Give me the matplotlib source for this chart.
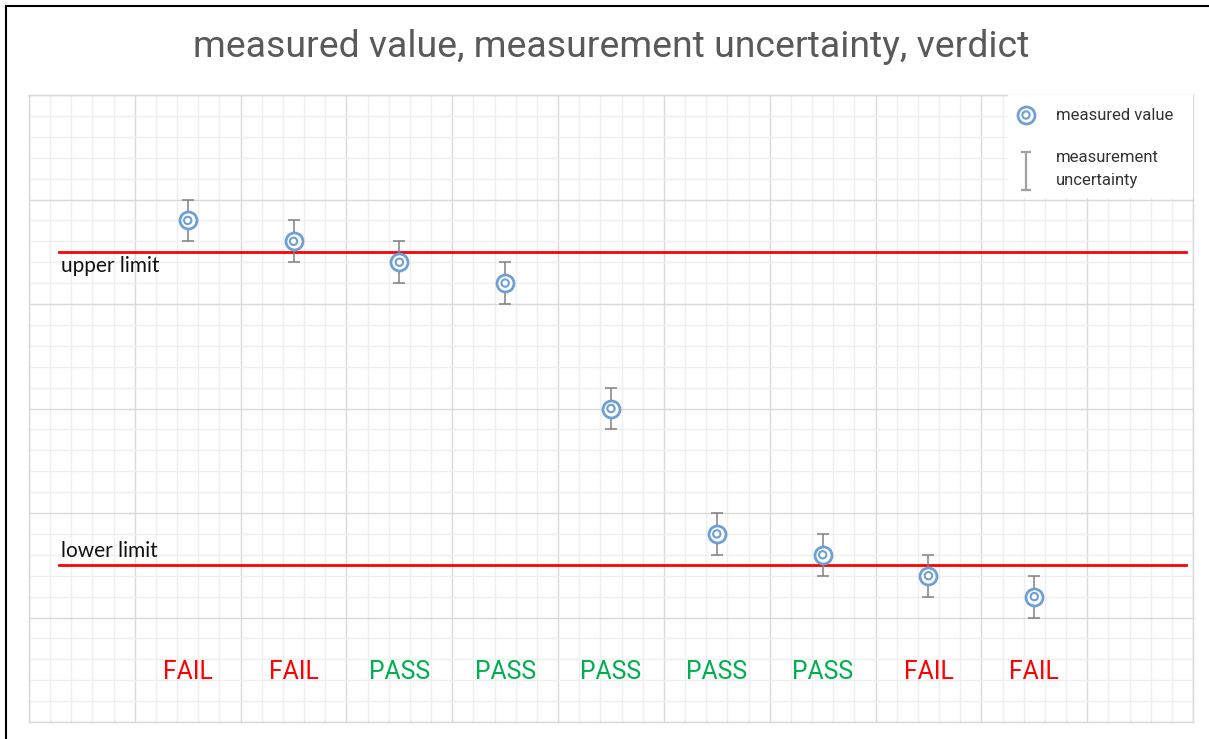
import matplotlib
matplotlib.use("Agg")
import matplotlib.pyplot as plt
from matplotlib.lines import Line2D
from matplotlib.patches import Rectangle
from matplotlib.ticker import MultipleLocator

# data
positions = [1.5, 2.5, 3.5, 4.5, 5.5, 6.5, 7.5, 8.5, 9.5]
measured = [4.8, 4.6, 4.4, 4.2, 3.0, 1.8, 1.6, 1.4, 1.2]
uncertainty = [0.2, 0.2, 0.2, 0.2, 0.2, 0.2, 0.2, 0.2, 0.2]
verdicts = ["FAIL", "FAIL", "PASS", "PASS", "PASS", "PASS", "PASS", "FAIL", "FAIL"]
upper_limit = 4.5
lower_limit = 1.5
limit_span = [0.28, 10.93]
title = "measured value, measurement uncertainty, verdict"
legend_labels = ["measured value", "measurement", "uncertainty"]

W, H = 1209, 739
fig = plt.figure(figsize=(W / 100, H / 100), dpi=100)
AX_L, AX_R, AX_T, AX_B = 29, 1193, 95, 722
ax = fig.add_axes([AX_L / W, 1 - AX_B / H, (AX_R - AX_L) / W, (AX_B - AX_T) / H])

ax.set_xlim(0, 11)
ax.set_ylim(0, 6)


def px(xp, yp):
    """pixel position -> data coordinates"""
    return ((xp - AX_L) / (AX_R - AX_L) * 11, (AX_B - yp) / (AX_B - AX_T) * 6)


ax.xaxis.set_major_locator(MultipleLocator(1))
ax.xaxis.set_minor_locator(MultipleLocator(0.2))
ax.yaxis.set_major_locator(MultipleLocator(1))
ax.yaxis.set_minor_locator(MultipleLocator(0.2))
ax.grid(which="major", color="#d9d9d9", linewidth=1.0)
ax.grid(which="minor", color="#efefef", linewidth=1.0)
ax.set_axisbelow(True)
ax.tick_params(which="both", length=0, labelbottom=False, labelleft=False)
for s in ax.spines.values():
    s.set_color("#d9d9d9")
    s.set_linewidth(1.0)

# limits
ax.plot(limit_span, [upper_limit, upper_limit], color="#ff0000", linewidth=2, zorder=3)
ax.plot(limit_span, [lower_limit, lower_limit], color="#ff0000", linewidth=2, zorder=3)
ax.text(limit_span[0] + 0.02, upper_limit - 0.14, "upper limit", fontsize=15,
        family="Lato", color="#111111", ha="left", va="center")
ax.text(limit_span[0] + 0.02, lower_limit + 0.14, "lower limit", fontsize=15,
        family="Lato", color="#111111", ha="left", va="center")

# error bars
ecol = "#808080"
ax.errorbar(positions, measured, yerr=uncertainty, fmt="none", ecolor=ecol,
            elinewidth=1.1, capsize=4, capthick=1.1, zorder=4)

blue = "#6e9fd6"
ax.scatter(positions, measured, s=150, facecolors="white", edgecolors=blue,
           linewidths=2, zorder=5)
ax.scatter(positions, measured, s=28, facecolors="none", edgecolors=blue,
           linewidths=1.5, zorder=6)

# verdicts
for x, v in zip(positions, verdicts):
    ax.text(x, 0.48, v, ha="center", va="center", fontsize=17.8, family="Roboto",
            color="#ff0000" if v == "FAIL" else "#00b050")

fig.text(611 / W, 1 - 47 / H, title, ha="center", va="center", fontsize=26.9,
         family="Roboto", color="#595959")

# legend (white box in the top right corner)
x0, y0 = px(1008, 198)
x1, y1 = px(AX_R, AX_T)
ax.add_patch(Rectangle((x0, y0), x1 - x0, y1 - y0, facecolor="white",
                       edgecolor="none", zorder=7))
mx, my = px(1026, 115)
ax.scatter([mx], [my], s=150, facecolors="white", edgecolors=blue, linewidths=2, zorder=8)
ax.scatter([mx], [my], s=28, facecolors="none", edgecolors=blue, linewidths=1.5, zorder=9)
ex, ey_top = px(1026, 152)
_, ey_bot = px(1026, 190)
ax.errorbar([ex], [(ey_top + ey_bot) / 2], yerr=[(ey_top - ey_bot) / 2], fmt="none",
            ecolor="#a0a0a0", elinewidth=1.6, capsize=3.5, capthick=1.6, zorder=8)
tx, ty = px(1056, 115)
ax.text(tx, ty, legend_labels[0], family="Roboto", fontsize=12, color="#333333",
        ha="left", va="center", zorder=9)
for lab, yp in zip(legend_labels[1:], [157, 180]):
    tx, ty = px(1056, yp)
    ax.text(tx, ty, lab, family="Roboto", fontsize=12, color="#333333",
            ha="left", va="center", zorder=9)

# figure border
fig.add_artist(Line2D([5.5 / W, 5.5 / W], [0, 1 - 6 / H], color="black", linewidth=1.5,
                      transform=fig.transFigure))
fig.add_artist(Line2D([5.5 / W, 1], [1 - 6 / H, 1 - 6 / H], color="black", linewidth=1.5,
                      transform=fig.transFigure))

fig.savefig("out.png", dpi=100)
